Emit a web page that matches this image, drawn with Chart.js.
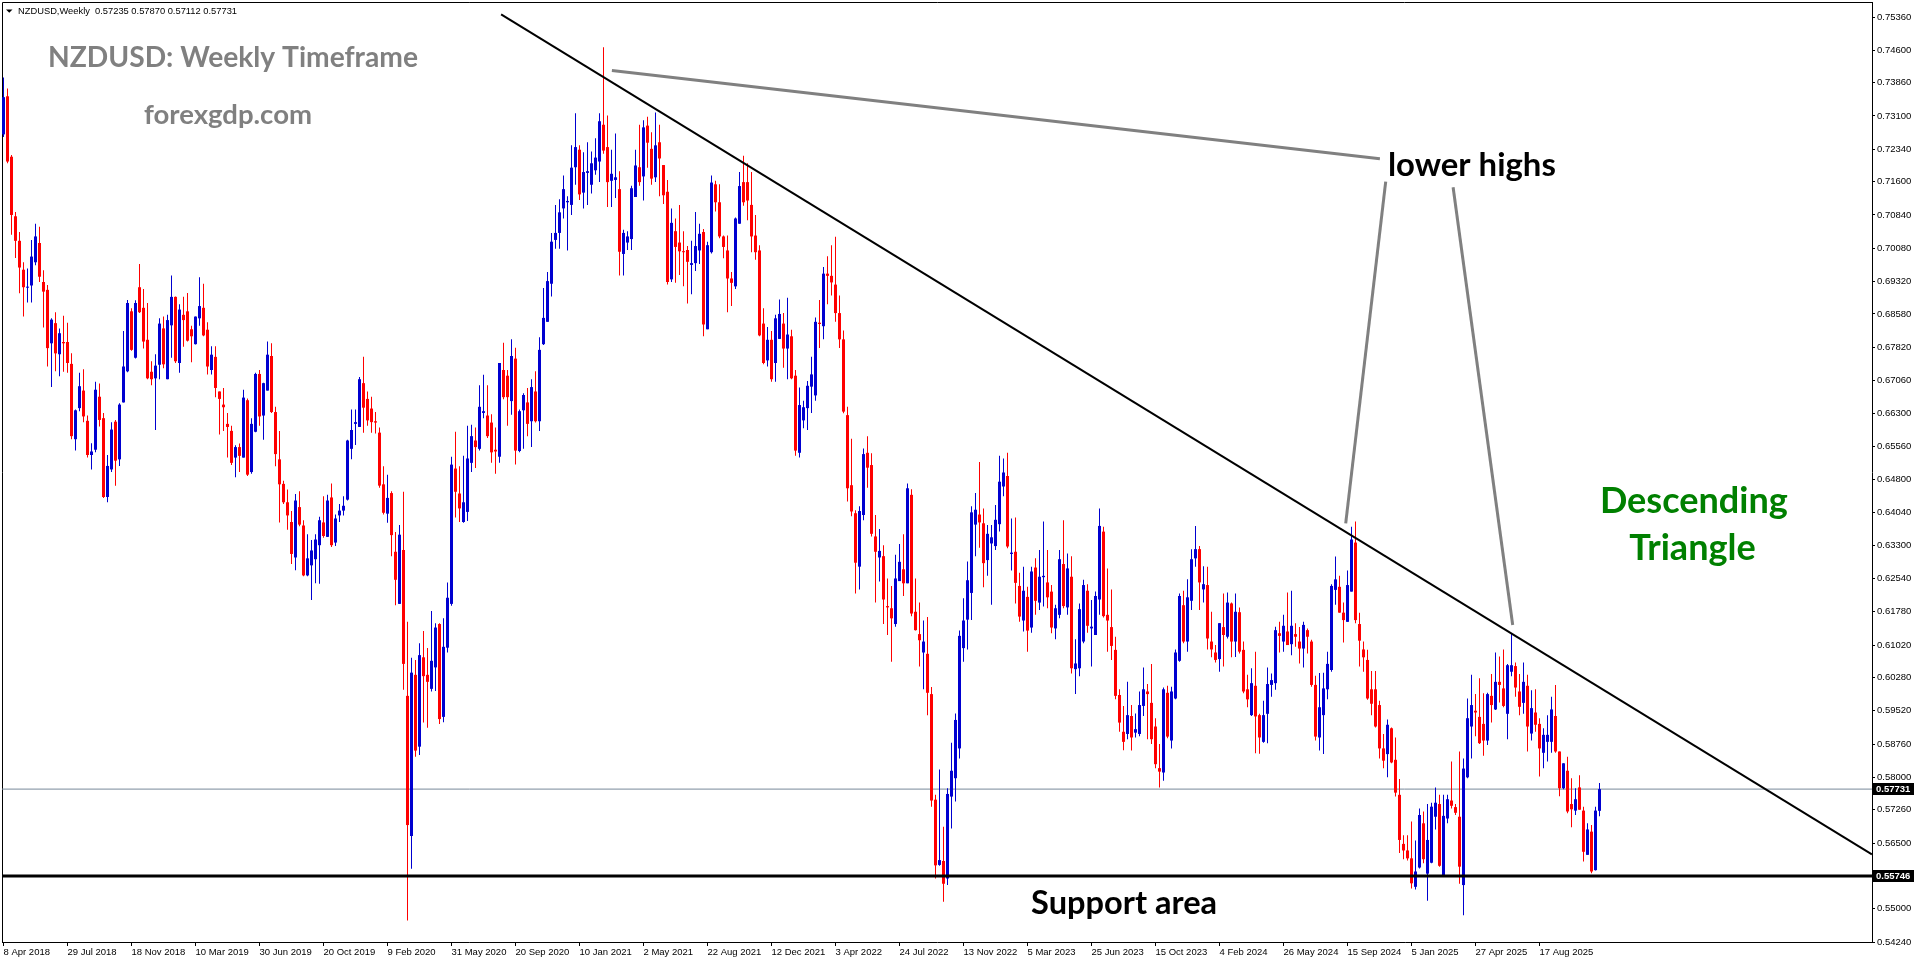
<!DOCTYPE html>
<html>
<head>
<meta charset="utf-8">
<title>NZDUSD Weekly</title>
<script src="https://cdn.jsdelivr.net/npm/chart.js@4.4.1/dist/chart.umd.min.js"></script>
<style>
  html, body { margin: 0; padding: 0; background: #fff; overflow: hidden; }
  canvas { display: block; }
</style>
</head>
<body>
<canvas id="chart" width="1916" height="964"></canvas>
<script>
// weekly candles, index 0 = week of 8 Apr 2018
const opens = [
  0.7268,0.7355,0.7217,0.7081,0.7025,0.6959,0.6918,0.6923,0.6976,0.7020,
  0.6931,0.6913,0.6791,0.6837,0.6766,0.6794,0.6794,0.6744,0.6572,0.6643,
  0.6683,0.6614,0.6536,0.6548,0.6669,0.6620,0.6440,0.6503,0.6612,0.6526,
  0.6656,0.6727,0.6864,0.6758,0.6919,0.6872,0.6799,0.6726,0.6711,0.6742,
  0.6825,0.6709,0.6832,0.6897,0.6746,0.6856,0.6864,0.6823,0.6789,0.6848,
  0.6872,0.6822,0.6730,0.6760,0.6681,0.6651,0.6607,0.6591,0.6530,0.6554,
  0.6530,0.6661,0.6497,0.6589,0.6721,0.6626,0.6683,0.6762,0.6634,0.6526,
  0.6470,0.6428,0.6383,0.6302,0.6417,0.6375,0.6261,0.6284,0.6298,0.6330,
  0.6382,0.6349,0.6439,0.6336,0.6398,0.6409,0.6434,0.6550,0.6607,0.6600,
  0.6700,0.6664,0.6642,0.6613,0.6587,0.6469,0.6402,0.6449,0.6315,0.6196,
  0.6319,0.5986,0.5666,0.6034,0.5870,0.6074,0.6034,0.6002,0.6051,0.6150,
  0.5938,0.6096,0.6196,0.6505,0.6448,0.6383,0.6406,0.6518,0.6569,0.6550,
  0.6632,0.6626,0.6610,0.6548,0.6532,0.6730,0.6717,0.6659,0.6756,0.6545,
  0.6638,0.6656,0.6613,0.6681,0.6613,0.6789,0.6840,0.6927,0.7027,0.7043,
  0.7099,0.7113,0.7107,0.7193,0.7233,0.7135,0.7180,0.7153,0.7186,0.7206,
  0.7290,0.7239,0.7162,0.7164,0.7143,0.6995,0.7021,0.7029,0.7125,0.7193,
  0.7172,0.7288,0.7235,0.7170,0.7250,0.7198,0.7137,0.6937,0.7047,0.7021,
  0.7001,0.7004,0.6970,0.6974,0.7003,0.7045,0.6823,0.6999,0.7154,0.7113,
  0.7035,0.7003,0.6939,0.6921,0.7064,0.7159,0.7159,0.7107,0.7037,0.7003,
  0.6836,0.6752,0.6799,0.6746,0.6801,0.6836,0.6779,0.6807,0.6717,0.6541,
  0.6615,0.6643,0.6692,0.6672,0.6838,0.6830,0.6950,0.6945,0.6925,0.6860,
  0.6800,0.6627,0.6467,0.6403,0.6281,0.6399,0.6541,0.6513,0.6350,0.6302,
  0.6305,0.6191,0.6186,0.6150,0.6248,0.6275,0.6243,0.6445,0.6178,0.6127,
  0.6085,0.6082,0.5990,0.5749,0.5600,0.5609,0.5569,0.5756,0.5798,0.5866,
  0.6095,0.6160,0.6221,0.6377,0.6400,0.6380,0.6296,0.6334,0.6328,0.6378,
  0.6464,0.6488,0.6310,0.6315,0.6237,0.6158,0.6212,0.6142,0.6279,0.6199,
  0.6257,0.6245,0.6224,0.6140,0.6171,0.6287,0.6188,0.6258,0.6047,0.6049,
  0.6110,0.6226,0.6140,0.6125,0.6206,0.6361,0.6171,0.6143,0.6091,0.5988,
  0.5904,0.5899,0.5940,0.5902,0.5899,0.5963,0.5996,0.5970,0.5916,0.5821,
  0.5811,0.5993,0.5884,0.5980,0.6066,0.6193,0.6110,0.6203,0.6300,0.6321,
  0.6229,0.6239,0.6110,0.6085,0.6070,0.6143,0.6121,0.6197,0.6110,0.6177,
  0.6091,0.6001,0.5942,0.6009,0.5942,0.5881,0.5945,0.6011,0.6015,0.6129,
  0.6110,0.6133,0.6104,0.6127,0.6110,0.6094,0.6136,0.6110,0.6011,0.5891,
  0.5942,0.6001,0.6045,0.6228,0.6235,0.6176,0.6155,0.6224,0.6336,0.6150,
  0.6092,0.6068,0.6001,0.6001,0.5965,0.5866,0.5853,0.5912,0.5840,0.5760,
  0.5648,0.5633,0.5615,0.5550,0.5594,0.5695,0.5580,0.5605,0.5710,0.5739,
  0.5573,0.5706,0.5747,0.5732,0.5710,0.5554,0.5800,0.5916,0.5952,0.5938,
  0.5922,0.5884,0.5986,0.5955,0.6018,0.6003,0.5945,0.6041,0.6054,0.5996,
  0.5970,0.6009,0.5900,0.5948,0.5922,0.5856,0.5881,0.5881,0.5940,0.5859,
  0.5775,0.5815,0.5739,0.5724,0.5777,0.5724,0.5623,0.5676,0.5588,0.57235
];
const highs = [
  0.7398,0.7373,0.7221,0.7091,0.7045,0.6976,0.6962,0.7027,0.7064,0.7057,
  0.6958,0.6924,0.6848,0.6862,0.6825,0.6854,0.6838,0.6768,0.6640,0.6724,
  0.6732,0.6626,0.6563,0.6703,0.6699,0.6632,0.6536,0.6611,0.6616,0.6654,
  0.6819,0.6890,0.6871,0.6889,0.6972,0.6915,0.6883,0.6750,0.6766,0.6848,
  0.6852,0.6856,0.6946,0.6898,0.6880,0.6897,0.6906,0.6831,0.6852,0.6942,
  0.6927,0.6839,0.6784,0.6784,0.6681,0.6689,0.6632,0.6603,0.6558,0.6562,
  0.6685,0.6665,0.6620,0.6724,0.6730,0.6701,0.6795,0.6791,0.6646,0.6591,
  0.6477,0.6457,0.6408,0.6447,0.6453,0.6387,0.6355,0.6342,0.6355,0.6395,
  0.6442,0.6445,0.6471,0.6400,0.6424,0.6442,0.6571,0.6640,0.6640,0.6714,
  0.6760,0.6681,0.6669,0.6634,0.6599,0.6510,0.6491,0.6453,0.6360,0.6376,
  0.6452,0.6155,0.6073,0.6068,0.6106,0.6134,0.6095,0.6180,0.6152,0.6152,
  0.6163,0.6245,0.6532,0.6589,0.6510,0.6534,0.6603,0.6605,0.6599,0.6695,
  0.6719,0.6695,0.6629,0.6599,0.6746,0.6792,0.6730,0.6800,0.6781,0.6640,
  0.6677,0.6689,0.6709,0.6727,0.6805,0.6917,0.6954,0.7043,0.7107,0.7120,
  0.7174,0.7127,0.7243,0.7316,0.7243,0.7227,0.7250,0.7229,0.7259,0.7316,
  0.7467,0.7311,0.7233,0.7270,0.7184,0.7050,0.7047,0.7151,0.7233,0.7290,
  0.7300,0.7308,0.7273,0.7318,0.7290,0.7198,0.7164,0.7099,0.7076,0.7107,
  0.7047,0.7013,0.7025,0.7091,0.7064,0.7052,0.7023,0.7174,0.7162,0.7154,
  0.7037,0.7037,0.6954,0.7078,0.7182,0.7219,0.7202,0.7182,0.7084,0.7015,
  0.6871,0.6828,0.6819,0.6856,0.6891,0.6860,0.6895,0.6822,0.6730,0.6690,
  0.6660,0.6705,0.6760,0.6850,0.6890,0.6965,0.6990,0.7015,0.7034,0.6900,
  0.6820,0.6646,0.6573,0.6410,0.6419,0.6551,0.6579,0.6540,0.6399,0.6367,
  0.6330,0.6254,0.6237,0.6308,0.6333,0.6355,0.6471,0.6458,0.6254,0.6199,
  0.6158,0.6166,0.6006,0.5760,0.5818,0.5687,0.5775,0.5879,0.5946,0.6135,
  0.6209,0.6293,0.6419,0.6449,0.6520,0.6414,0.6376,0.6376,0.6422,0.6534,
  0.6528,0.6541,0.6391,0.6393,0.6267,0.6281,0.6235,0.6281,0.6300,0.6319,
  0.6384,0.6319,0.6239,0.6194,0.6319,0.6387,0.6311,0.6305,0.6115,0.6197,
  0.6251,0.6241,0.6205,0.6224,0.6414,0.6372,0.6277,0.6229,0.6121,0.6001,
  0.5963,0.6018,0.5965,0.5946,0.5996,0.6051,0.6013,0.6059,0.5935,0.5876,
  0.6005,0.6009,0.6007,0.6092,0.6220,0.6226,0.6252,0.6321,0.6374,0.6328,
  0.6282,0.6281,0.6178,0.6102,0.6152,0.6220,0.6222,0.6199,0.6220,0.6188,
  0.6110,0.6034,0.6049,0.6087,0.5945,0.5975,0.6051,0.6037,0.6144,0.6155,
  0.6171,0.6222,0.6226,0.6152,0.6143,0.6155,0.6140,0.6114,0.6032,0.6038,
  0.6039,0.6087,0.6241,0.6304,0.6260,0.6199,0.6272,0.6372,0.6384,0.6176,
  0.6110,0.6091,0.6043,0.6043,0.5975,0.5899,0.5932,0.5914,0.5891,0.5796,
  0.5668,0.5668,0.5699,0.5656,0.5729,0.5722,0.5739,0.5742,0.5777,0.5760,
  0.5760,0.5760,0.5836,0.5739,0.5859,0.5843,0.5980,0.6034,0.5990,0.6026,
  0.5992,0.5993,0.6036,0.6085,0.6076,0.6092,0.6059,0.6127,0.6062,0.6036,
  0.6062,0.6034,0.5999,0.6001,0.5935,0.5912,0.5942,0.5984,0.6011,0.5859,
  0.5832,0.5847,0.5798,0.5775,0.5805,0.5733,0.5695,0.5691,0.5733,0.57870
];
const lows = [
  0.7262,0.7202,0.7039,0.6986,0.6905,0.6852,0.6884,0.6884,0.6969,0.6931,
  0.6827,0.6738,0.6691,0.6727,0.6716,0.6726,0.6724,0.6572,0.6546,0.6636,
  0.6611,0.6530,0.6503,0.6542,0.6601,0.6438,0.6428,0.6497,0.6466,0.6511,
  0.6656,0.6725,0.6774,0.6756,0.6860,0.6779,0.6709,0.6695,0.6593,0.6709,
  0.6734,0.6709,0.6758,0.6746,0.6724,0.6783,0.6795,0.6748,0.6788,0.6831,
  0.6807,0.6720,0.6720,0.6668,0.6583,0.6591,0.6530,0.6513,0.6485,0.6497,
  0.6530,0.6488,0.6493,0.6588,0.6603,0.6571,0.6683,0.6632,0.6510,0.6382,
  0.6424,0.6365,0.6287,0.6273,0.6373,0.6259,0.6259,0.6205,0.6243,0.6242,
  0.6347,0.6349,0.6326,0.6328,0.6383,0.6398,0.6432,0.6526,0.6559,0.6600,
  0.6587,0.6603,0.6587,0.6585,0.6461,0.6400,0.6381,0.6305,0.6193,0.6196,
  0.6000,0.5473,0.5591,0.5847,0.5851,0.5925,0.5913,0.5996,0.5997,0.5922,
  0.5926,0.6085,0.6192,0.6393,0.6383,0.6381,0.6385,0.6497,0.6506,0.6546,
  0.6620,0.6575,0.6518,0.6493,0.6518,0.6663,0.6603,0.6628,0.6514,0.6542,
  0.6550,0.6579,0.6554,0.6610,0.6591,0.6787,0.6840,0.6898,0.7007,0.7007,
  0.7076,0.7003,0.7084,0.7153,0.7118,0.7099,0.7107,0.7133,0.7176,0.7159,
  0.7224,0.7102,0.7102,0.7123,0.6946,0.6946,0.7004,0.7004,0.7125,0.7151,
  0.7117,0.7192,0.7153,0.7159,0.7127,0.7109,0.6925,0.6931,0.6929,0.6947,
  0.6921,0.6882,0.6903,0.6956,0.6972,0.6807,0.6823,0.6996,0.7092,0.7031,
  0.6985,0.6862,0.6876,0.6915,0.7064,0.7105,0.7072,0.6999,0.6982,0.6807,
  0.6743,0.6738,0.6703,0.6703,0.6801,0.6735,0.6709,0.6709,0.6534,0.6530,
  0.6597,0.6593,0.6632,0.6660,0.6780,0.6800,0.6880,0.6900,0.6840,0.6780,
  0.6631,0.6430,0.6396,0.6220,0.6229,0.6387,0.6461,0.6350,0.6199,0.6247,
  0.6150,0.6125,0.6064,0.6144,0.6248,0.6214,0.6243,0.6168,0.6135,0.6053,
  0.6001,0.5942,0.5733,0.5569,0.5598,0.5516,0.5554,0.5683,0.5745,0.5843,
  0.6064,0.6092,0.6159,0.6305,0.6324,0.6234,0.6260,0.6194,0.6319,0.6361,
  0.6442,0.6323,0.6272,0.6197,0.6155,0.6133,0.6087,0.6130,0.6171,0.6182,
  0.6190,0.6186,0.6129,0.6115,0.6163,0.6186,0.6171,0.6037,0.5990,0.6031,
  0.6106,0.6130,0.6053,0.6125,0.6171,0.6165,0.6087,0.6068,0.5978,0.5904,
  0.5862,0.5887,0.5861,0.5891,0.5894,0.5940,0.5887,0.5876,0.5821,0.5777,
  0.5792,0.5889,0.5866,0.5978,0.6064,0.6106,0.6087,0.6182,0.6281,0.6182,
  0.6199,0.6092,0.6074,0.6062,0.6041,0.6053,0.6117,0.6074,0.6075,0.6083,
  0.5992,0.5960,0.5940,0.5855,0.5854,0.5879,0.5878,0.5984,0.6000,0.6085,
  0.6087,0.6102,0.6079,0.6098,0.6060,0.6051,0.6083,0.6007,0.5884,0.5861,
  0.5853,0.5978,0.6041,0.6194,0.6176,0.6108,0.6155,0.6224,0.6152,0.6053,
  0.6041,0.5977,0.5942,0.5914,0.5843,0.5821,0.5800,0.5832,0.5756,0.5627,
  0.5613,0.5610,0.5546,0.5544,0.5592,0.5604,0.5518,0.5604,0.5681,0.5596,
  0.5573,0.5695,0.5729,0.5714,0.5557,0.5485,0.5798,0.5843,0.5894,0.5876,
  0.5849,0.5874,0.5925,0.5954,0.5971,0.5960,0.5887,0.6031,0.5984,0.5942,
  0.5945,0.5859,0.5884,0.5904,0.5802,0.5821,0.5836,0.5856,0.5856,0.5757,
  0.5773,0.5718,0.5686,0.5714,0.5726,0.5608,0.5623,0.5581,0.5587,0.57112
];
const closes = [
  0.7353,0.7206,0.7084,0.7025,0.6964,0.6919,0.6920,0.6989,0.7035,0.6943,
  0.6909,0.6780,0.6845,0.6768,0.6814,0.6791,0.6746,0.6579,0.6638,0.6693,
  0.6624,0.6536,0.6544,0.6685,0.6616,0.6440,0.6511,0.6594,0.6523,0.6651,
  0.6738,0.6883,0.6776,0.6883,0.6862,0.6795,0.6711,0.6709,0.6740,0.6836,
  0.6743,0.6844,0.6897,0.6750,0.6868,0.6844,0.6797,0.6807,0.6852,0.6876,
  0.6809,0.6738,0.6765,0.6689,0.6664,0.6645,0.6600,0.6518,0.6554,0.6534,
  0.6667,0.6491,0.6607,0.6721,0.6624,0.6700,0.6765,0.6634,0.6538,0.6469,
  0.6428,0.6398,0.6310,0.6432,0.6377,0.6261,0.6300,0.6318,0.6343,0.6387,
  0.6351,0.6432,0.6330,0.6391,0.6409,0.6420,0.6569,0.6593,0.6611,0.6709,
  0.6644,0.6615,0.6611,0.6610,0.6466,0.6404,0.6438,0.6353,0.6251,0.6354,
  0.6059,0.5691,0.6039,0.5861,0.6079,0.6031,0.6018,0.6066,0.6142,0.5933,
  0.6098,0.6210,0.6514,0.6452,0.6414,0.6428,0.6528,0.6579,0.6554,0.6646,
  0.6636,0.6579,0.6542,0.6544,0.6746,0.6668,0.6668,0.6762,0.6546,0.6636,
  0.6673,0.6607,0.6691,0.6613,0.6776,0.6849,0.6933,0.7023,0.7043,0.7090,
  0.7143,0.7116,0.7192,0.7239,0.7131,0.7182,0.7184,0.7202,0.7215,0.7298,
  0.7231,0.7159,0.7178,0.7170,0.7000,0.7043,0.7035,0.7145,0.7197,0.7159,
  0.7284,0.7249,0.7167,0.7243,0.7213,0.7129,0.6931,0.7066,0.7011,0.7001,
  0.6999,0.6977,0.6974,0.7013,0.7041,0.6834,0.7015,0.7158,0.7113,0.7035,
  0.7011,0.6939,0.6929,0.7076,0.7150,0.7113,0.7117,0.7035,0.6999,0.6809,
  0.6746,0.6799,0.6709,0.6848,0.6858,0.6779,0.6811,0.6711,0.6546,0.6650,
  0.6645,0.6694,0.6720,0.6840,0.6835,0.6950,0.6945,0.6930,0.6860,0.6800,
  0.6635,0.6460,0.6407,0.6290,0.6408,0.6538,0.6507,0.6356,0.6315,0.6317,
  0.6206,0.6188,0.6163,0.6254,0.6292,0.6243,0.6460,0.6174,0.6136,0.6113,
  0.6110,0.5993,0.5747,0.5599,0.5611,0.5557,0.5762,0.5815,0.5931,0.6123,
  0.6158,0.6250,0.6405,0.6411,0.6382,0.6289,0.6356,0.6348,0.6388,0.6475,
  0.6496,0.6327,0.6313,0.6244,0.6167,0.6226,0.6135,0.6270,0.6203,0.6258,
  0.6260,0.6211,0.6142,0.6186,0.6298,0.6191,0.6277,0.6049,0.6060,0.6184,
  0.6239,0.6146,0.6144,0.6214,0.6374,0.6168,0.6158,0.6100,0.5986,0.5925,
  0.5881,0.5942,0.5891,0.5910,0.5965,0.6001,0.5990,0.5887,0.5830,0.5813,
  0.6001,0.5893,0.5996,0.6085,0.6214,0.6110,0.6211,0.6298,0.6321,0.6245,
  0.6241,0.6117,0.6092,0.6068,0.6152,0.6125,0.6199,0.6110,0.6178,0.6087,
  0.5996,0.5978,0.6015,0.5939,0.5891,0.5942,0.6013,0.6022,0.6136,0.6123,
  0.6146,0.6102,0.6146,0.6121,0.6094,0.6148,0.6121,0.6011,0.5893,0.5960,
  0.6003,0.6059,0.6237,0.6252,0.6176,0.6159,0.6239,0.6343,0.6159,0.6112,
  0.6074,0.5980,0.5968,0.5916,0.5866,0.5838,0.5920,0.5834,0.5765,0.5657,
  0.5633,0.5615,0.5558,0.5585,0.5714,0.5613,0.5657,0.5733,0.5742,0.5598,
  0.5712,0.5750,0.5735,0.5719,0.5596,0.5820,0.5935,0.5965,0.5948,0.5878,
  0.5884,0.5990,0.5965,0.6018,0.6011,0.5963,0.6056,0.6056,0.6005,0.5961,
  0.6018,0.5916,0.5958,0.5920,0.5866,0.5897,0.5897,0.5955,0.5859,0.5775,
  0.5832,0.5722,0.5727,0.5750,0.5726,0.5630,0.5681,0.5585,0.5724,0.57731
];

// time axis: bar index of each date label
const dateTicks = [0,16,32,48,64,80,96,112,128,144,160,176,192,208,224,240,256,272,288,304,320,336,352,368,384];
const dateLabels = ["8 Apr 2018","29 Jul 2018","18 Nov 2018","10 Mar 2019","30 Jun 2019","20 Oct 2019","9 Feb 2020",
  "31 May 2020","20 Sep 2020","10 Jan 2021","2 May 2021","22 Aug 2021","12 Dec 2021","3 Apr 2022","24 Jul 2022",
  "13 Nov 2022","5 Mar 2023","25 Jun 2023","15 Oct 2023","4 Feb 2024","26 May 2024","15 Sep 2024","5 Jan 2025",
  "27 Apr 2025","17 Aug 2025"];
const priceTicks = [0.7536,0.7460,0.7386,0.7310,0.7234,0.7160,0.7084,0.7008,0.6932,0.6858,0.6782,0.6706,0.6630,
  0.6556,0.6480,0.6404,0.6330,0.6254,0.6178,0.6102,0.6028,0.5952,0.5876,0.5800,0.5726,0.5650,0.5500,0.5424];

const currentPrice = 0.57731;
const supportLevel = 0.55746;
// drawn objects, [bar index, price]
const trendLine = [[124.4, 0.7542], [467.1, 0.5624]];
const lowerHighLines = [
  [[152.1, 0.74141], [344.1, 0.72125]],
  [[345.55, 0.71600], [335.55, 0.63800]],
  [[362.4, 0.71472], [377.3, 0.61478]]
];

const BULL = '#0000d0';
const BEAR = '#ff0000';
const X_MIN = -0.375, X_MAX = 467.125;

const candleColors = closes.map((c, i) => c >= opens[i] ? BULL : BEAR);
const wickData = highs.map((h, i) => ({x: i, y: [lows[i], h]}));
const bodyData = opens.map((o, i) => ({x: i, y: [o, closes[i]]}));
const toPts = seg => seg.map(p => ({x: p[0], y: p[1]}));

function lineSet(points, color, width, order) {
  return {type: 'line', data: points, borderColor: color, borderWidth: width,
    pointRadius: 0, fill: false, tension: 0, order: order};
}

function fitFont(ctx, text, width, family) {
  ctx.font = 'bold 40px ' + family;
  return 40 * width / ctx.measureText(text).width;
}

const overlay = {
  id: 'overlay',
  beforeDatasetsDraw(chart) {
    const {ctx, chartArea: a} = chart;
    ctx.save();
    ctx.strokeStyle = '#000';
    ctx.lineWidth = 1;
    ctx.beginPath();
    ctx.moveTo(a.left + 0.5, a.bottom);
    ctx.lineTo(a.left + 0.5, a.top + 0.5);
    ctx.lineTo(a.right, a.top + 0.5);
    ctx.stroke();
    ctx.restore();
  },
  afterDraw(chart) {
    const {ctx, chartArea: a} = chart;
    const xs = chart.scales.x, ys = chart.scales.y;
    ctx.save();

    // price boxes on the axis
    [currentPrice, supportLevel].forEach(v => {
      const py = Math.round(ys.getPixelForValue(v));
      ctx.fillStyle = '#000';
      ctx.fillRect(a.right + 1, py - 6, 41, 12);
      ctx.fillStyle = '#fff';
      ctx.font = 'bold 9.5px "Liberation Sans"';
      ctx.textAlign = 'left';
      ctx.textBaseline = 'middle';
      ctx.fillText(v.toFixed(5), a.right + 4, py + 0.5);
    });

    // header line
    ctx.fillStyle = '#000';
    ctx.beginPath();
    ctx.moveTo(6, 9.5); ctx.lineTo(12.5, 9.5); ctx.lineTo(9.25, 12.8); ctx.closePath();
    ctx.fill();
    const head = 'NZDUSD,Weekly  ' + [opens[399], highs[399], lows[399], closes[399]].map(v => v.toFixed(5)).join(' ');
    ctx.font = '40px "Liberation Sans"';
    const hs = 40 * 219 / ctx.measureText(head).width;
    ctx.font = hs.toFixed(2) + 'px "Liberation Sans"';
    ctx.textAlign = 'left';
    ctx.textBaseline = 'alphabetic';
    ctx.fillText(head, 18, 14);

    const fam = 'Lato, "Open Sans", sans-serif';
    // title block
    let s = fitFont(ctx, 'NZDUSD: Weekly Timeframe', 370, fam);
    ctx.font = 'bold ' + s.toFixed(2) + 'px ' + fam;
    ctx.fillStyle = '#808080';
    ctx.fillText('NZDUSD: Weekly Timeframe', 48, 67);
    s = fitFont(ctx, 'forexgdp.com', 168, fam);
    ctx.font = 'bold ' + s.toFixed(2) + 'px ' + fam;
    ctx.fillText('forexgdp.com', 144, 124);

    // chart notes
    s = fitFont(ctx, 'lower highs', 168, fam);
    ctx.font = 'bold ' + s.toFixed(2) + 'px ' + fam;
    ctx.fillStyle = '#000';
    ctx.fillText('lower highs', xs.getPixelForValue(346.1), ys.getPixelForValue(0.7173));

    s = fitFont(ctx, 'Support area', 186, fam);
    ctx.font = 'bold ' + s.toFixed(2) + 'px ' + fam;
    ctx.fillText('Support area', xs.getPixelForValue(256.9), ys.getPixelForValue(0.54879));

    s = fitFont(ctx, 'Descending', 188, fam);
    ctx.font = 'bold ' + s.toFixed(2) + 'px ' + fam;
    ctx.fillStyle = '#008000';
    ctx.textAlign = 'center';
    ctx.fillText('Descending', xs.getPixelForValue(422.6), ys.getPixelForValue(0.64042));
    ctx.fillText('Triangle', xs.getPixelForValue(422.25), ys.getPixelForValue(0.62962));
    ctx.restore();
  }
};

const axisFont = {family: '"Liberation Sans"', size: 9.5};

new Chart(document.getElementById('chart'), {
  type: 'bar',
  data: {
    datasets: [
      lineSet(toPts(trendLine), '#000', 2, 0),
      lineSet(toPts(lowerHighLines[0]), '#808080', 3, 0),
      lineSet(toPts(lowerHighLines[1]), '#808080', 3, 0),
      lineSet(toPts(lowerHighLines[2]), '#808080', 3, 0),
      lineSet([{x: X_MIN, y: supportLevel}, {x: X_MAX, y: supportLevel}], '#000', 3, 0),
      {type: 'bar', data: bodyData, backgroundColor: candleColors, barThickness: 3, grouped: false,
        minBarLength: 1, borderWidth: 0, inflateAmount: 0, order: 2},
      {type: 'bar', data: wickData, backgroundColor: candleColors, barThickness: 1, grouped: false,
        borderWidth: 0, inflateAmount: 0, order: 3},
      lineSet([{x: X_MIN, y: currentPrice}, {x: X_MAX, y: currentPrice}], '#778899', 1, 4)
    ]
  },
  options: {
    responsive: false,
    animation: false,
    devicePixelRatio: 1,
    layout: {padding: {left: 2, top: 2, right: 0, bottom: 0}},
    plugins: {legend: {display: false}, tooltip: {enabled: false}},
    scales: {
      x: {
        type: 'linear', position: 'bottom', min: X_MIN, max: X_MAX, offset: false,
        grid: {offset: false, drawOnChartArea: false, drawTicks: true, tickLength: 4, color: '#000'},
        border: {display: true, color: '#000'},
        ticks: {
          autoSkip: false, maxRotation: 0, minRotation: 0, align: 'start', padding: 1,
          color: '#000', font: axisFont,
          callback: v => dateLabels[dateTicks.indexOf(v)]
        },
        afterBuildTicks: sc => { sc.ticks = dateTicks.map(v => ({value: v})); },
        afterFit: sc => { sc.height = 22; sc.paddingLeft = 0; sc.paddingRight = 0; }
      },
      y: {
        type: 'linear', position: 'right', min: 0.5424, max: 0.5424 + 940 / 4379.7,
        grid: {drawOnChartArea: false, drawTicks: true, tickLength: 3, color: '#000'},
        border: {display: true, color: '#000'},
        ticks: {autoSkip: false, padding: 2, color: '#000', font: axisFont, callback: v => v.toFixed(5)},
        afterBuildTicks: sc => { sc.ticks = priceTicks.map(v => ({value: v})); },
        afterFit: sc => { sc.width = 44; sc.paddingTop = 0; sc.paddingBottom = 0; }
      }
    }
  },
  plugins: [overlay]
});
</script>
</body>
</html>
